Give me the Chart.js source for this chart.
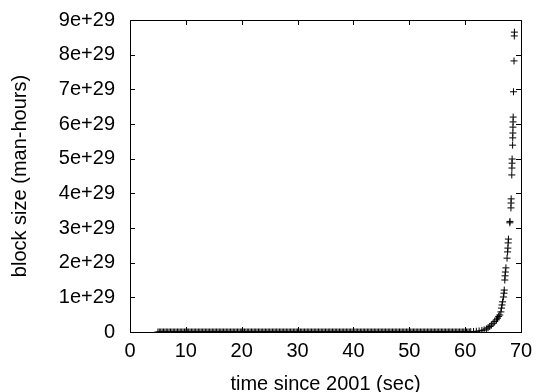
<!DOCTYPE html>
<html>
<head>
<meta charset="utf-8">
<script src="https://cdn.jsdelivr.net/npm/chart.js@4/dist/chart.umd.min.js"></script>
<style>
  html, body { margin: 0; padding: 0; background: #ffffff; }
  #wrap { width: 539px; height: 392px; }
</style>
</head>
<body>
<div id="wrap"><canvas id="c" width="539" height="392"></canvas></div>
<script>
// time since 2001 (sec) — flat part of the series
const baseTimes = [
  5,5.25,5.5,5.75, 6,6.25,6.5,6.75, 7,7.25,7.5,7.75, 8,8.25,8.5,8.75, 9,9.25,9.5,9.75,
  10,10.25,10.5,10.75, 11,11.25,11.5,11.75, 12,12.25,12.5,12.75, 13,13.25,13.5,13.75, 14,14.25,14.5,14.75,
  15,15.25,15.5,15.75, 16,16.25,16.5,16.75, 17,17.25,17.5,17.75, 18,18.25,18.5,18.75, 19,19.25,19.5,19.75,
  20,20.25,20.5,20.75, 21,21.25,21.5,21.75, 22,22.25,22.5,22.75, 23,23.25,23.5,23.75, 24,24.25,24.5,24.75,
  25,25.25,25.5,25.75, 26,26.25,26.5,26.75, 27,27.25,27.5,27.75, 28,28.25,28.5,28.75, 29,29.25,29.5,29.75,
  30,30.25,30.5,30.75, 31,31.25,31.5,31.75, 32,32.25,32.5,32.75, 33,33.25,33.5,33.75, 34,34.25,34.5,34.75,
  35,35.25,35.5,35.75, 36,36.25,36.5,36.75, 37,37.25,37.5,37.75, 38,38.25,38.5,38.75, 39,39.25,39.5,39.75,
  40,40.25,40.5,40.75, 41,41.25,41.5,41.75, 42,42.25,42.5,42.75, 43,43.25,43.5,43.75, 44,44.25,44.5,44.75,
  45,45.25,45.5,45.75, 46,46.25,46.5,46.75, 47,47.25,47.5,47.75, 48,48.25,48.5,48.75, 49,49.25,49.5,49.75,
  50,50.25,50.5,50.75, 51,51.25,51.5,51.75, 52,52.25,52.5,52.75, 53,53.25,53.5,53.75, 54,54.25,54.5,54.75,
  55,55.25,55.5,55.75, 56,56.25,56.5,56.75, 57,57.25,57.5,57.75, 58,58.25,58.5,58.75, 59,59.25,59.5,59.75,
  60,60.25,60.5,60.75
];
// block size in units of 1e29 man-hours — flat part (indistinguishable from zero)
const baseSizes = [
  0,0,0,0, 0,0,0,0, 0,0,0,0, 0,0,0,0, 0,0,0,0,
  0,0,0,0, 0,0,0,0, 0,0,0,0, 0,0,0,0, 0,0,0,0,
  0,0,0,0, 0,0,0,0, 0,0,0,0, 0,0,0,0, 0,0,0,0,
  0,0,0,0, 0,0,0,0, 0,0,0,0, 0,0,0,0, 0,0,0,0,
  0,0,0,0, 0,0,0,0, 0,0,0,0, 0,0,0,0, 0,0,0,0,
  0,0,0,0, 0,0,0,0, 0,0,0,0, 0,0,0,0, 0,0,0,0,
  0,0,0,0, 0,0,0,0, 0,0,0,0, 0,0,0,0, 0,0,0,0,
  0,0,0,0, 0,0,0,0, 0,0,0,0, 0,0,0,0, 0,0,0,0,
  0,0,0,0, 0,0,0,0, 0,0,0,0, 0,0,0,0, 0,0,0,0,
  0,0,0,0, 0,0,0,0, 0,0,0,0, 0,0,0,0, 0,0,0,0,
  0,0,0,0, 0,0,0,0, 0,0,0,0, 0,0,0,0, 0,0,0,0,
  0,0,0,0
];
// rising tail
const tailTimes = [61,61.5,62,62.5,63,63.4,63.8,64.1,64.4,64.7,65,65.3,65.6,65.8,66,66.2,66.4,66.5,66.6,66.7,66.85,66.95,67.0,67.1,67.15,67.2,67.3,67.5,67.6,67.65,67.7,67.75,68.0,68.02,68.2,68.22,68.24,68.35,68.37,68.39,68.41,68.5,68.52,68.54,68.56,68.58,68.6,68.65,68.75,68.8,68.82];
const tailSizes = [0.01,0.015,0.02,0.03,0.045,0.06,0.09,0.12,0.16,0.2,0.25,0.3,0.35,0.4,0.45,0.49,0.58,0.69,0.78,0.87,1.01,1.12,1.21,1.5,1.62,1.73,1.85,2.13,2.31,2.42,2.57,2.68,3.15,3.19,3.58,3.72,3.84,4.53,4.73,4.87,4.99,5.39,5.6,5.74,5.91,6.06,6.2,6.93,7.82,8.54,8.65];

const xTickLabels = ['0','10','20','30','40','50','60','70'];
const yTickLabels = ['0','1e+29','2e+29','3e+29','4e+29','5e+29','6e+29','7e+29','8e+29','9e+29'];
const xTitle = 'time since 2001 (sec)';
const yTitle = 'block size (man-hours)';

const times = baseTimes.concat(tailTimes);
const sizes = baseSizes.concat(tailSizes);
const points = times.map((t, i) => ({ x: t, y: sizes[i] }));

const FONT = { family: '"Liberation Sans", Arial, sans-serif', size: 20 };

function fixSize(prop, v) {
  return function (s) {
    s[prop] = v;
    s.paddingTop = 0; s.paddingBottom = 0; s.paddingLeft = 0; s.paddingRight = 0;
  };
}
const border = { display: true, color: '#000', width: 1 };

// inward tick marks on all four sides, placed with the scales' own tick pixels
const inwardTicks = {
  id: 'inwardTicks',
  afterDraw(chart) {
    const ctx = chart.ctx, a = chart.chartArea, L = 5;
    ctx.save();
    ctx.strokeStyle = '#000';
    ctx.lineWidth = 1;
    ctx.beginPath();
    chart.scales.x.ticks.forEach(t => {
      const px = Math.round(chart.scales.x.getPixelForValue(t.value)) + 0.5;
      ctx.moveTo(px, a.bottom); ctx.lineTo(px, a.bottom - L);
      ctx.moveTo(px, a.top); ctx.lineTo(px, a.top + L);
    });
    chart.scales.y.ticks.forEach(t => {
      const py = Math.round(chart.scales.y.getPixelForValue(t.value)) + 0.5;
      ctx.moveTo(a.left, py); ctx.lineTo(a.left + L, py);
      ctx.moveTo(a.right, py); ctx.lineTo(a.right - L, py);
    });
    ctx.stroke();
    ctx.restore();
  }
};

new Chart(document.getElementById('c'), {
  type: 'scatter',
  data: {
    datasets: [{
      data: points,
      pointStyle: 'cross',
      radius: 3.5,
      borderColor: '#000',
      backgroundColor: '#000',
      borderWidth: 1,
      showLine: false
    }]
  },
  plugins: [inwardTicks],
  options: {
    responsive: false,
    animation: false,
    events: [],
    layout: { padding: 0 },
    plugins: { legend: { display: false }, tooltip: { enabled: false } },
    scales: {
      x: {
        type: 'linear', position: 'bottom', min: 0, max: 70,
        afterFit: fixSize('height', 60),
        border: border, grid: { display: false, drawTicks: false },
        ticks: { stepSize: 10, color: '#000', font: FONT, padding: 7, maxRotation: 0,
                 callback: (v, i) => xTickLabels[i] },
        title: { display: true, text: xTitle, color: '#000', font: Object.assign({}, FONT, { lineHeight: 0.8 }),
                 padding: { top: 0, bottom: 0 } }
      },
      x2: {
        type: 'linear', position: 'top', min: 0, max: 70,
        afterFit: fixSize('height', 20),
        border: border, grid: { display: false, drawTicks: false },
        ticks: { display: false, stepSize: 10 }
      },
      y: {
        type: 'linear', position: 'left', min: 0, max: 9,
        afterFit: fixSize('width', 130),
        border: border, grid: { display: false, drawTicks: false },
        ticks: { stepSize: 1, color: '#000', font: FONT, padding: 15,
                 callback: (v, i) => yTickLabels[i] },
        title: { display: true, text: yTitle, color: '#000', font: Object.assign({}, FONT, { lineHeight: 1 }),
                 padding: { top: 10, bottom: 0 } }
      },
      y2: {
        type: 'linear', position: 'right', min: 0, max: 9,
        afterFit: fixSize('width', 18),
        border: border, grid: { display: false, drawTicks: false },
        ticks: { display: false, stepSize: 1 }
      }
    }
  }
});
</script>
</body>
</html>
